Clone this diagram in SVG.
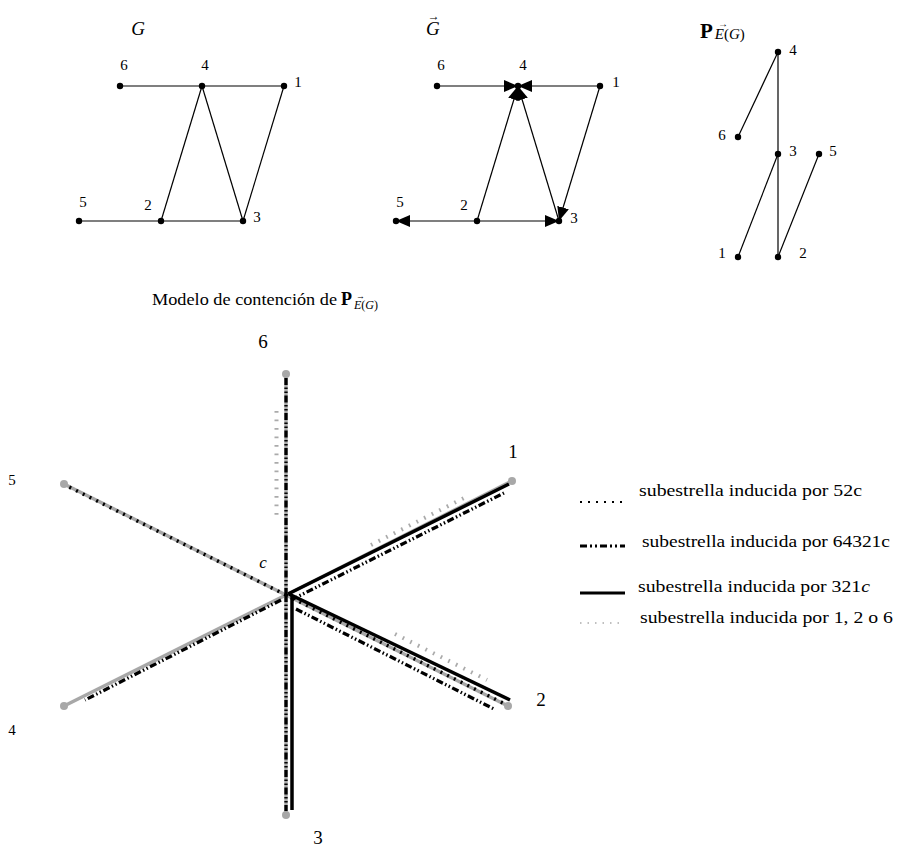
<svg xmlns="http://www.w3.org/2000/svg" width="901" height="850" viewBox="0 0 901 850">
<defs>
<style>
text{font-family:"Liberation Serif","DejaVu Serif",serif;fill:#000}
.lbl{font-size:15px;text-anchor:middle}
.big{font-size:19px;text-anchor:middle}
.it{font-style:italic}
.e{stroke:#000;stroke-width:1.2;fill:none}
.ea{stroke:#000;stroke-width:1.2;fill:none;marker-end:url(#ah)}
.n{fill:#000}
.gr{stroke:#a8a8a8;stroke-width:3.5;fill:none}
.gd{fill:#a8a8a8}
.d52{stroke:#000;stroke-width:3.5;stroke-dasharray:2 5.5;fill:none}
.dd{stroke:#000;stroke-width:3.3;stroke-dasharray:7 2.5 1.5 2.5 1.5 2.5;fill:none}
.so{stroke:#000;stroke-width:3.5;fill:none}
.gdot{stroke:#aaa;stroke-width:4;stroke-dasharray:1.7 6.8;fill:none}
.leg{font-size:17px}
</style>
<marker id="ah" markerUnits="userSpaceOnUse" markerWidth="14" markerHeight="12" refX="14" refY="6" orient="auto">
<path d="M0,0 L14,6 L0,12 Z" fill="#000"/>
</marker>
</defs>

<!-- Graph G -->
<g id="graphG">
<text x="138" y="35" class="big it">G</text>
<g id="G-edges">
<line class="e" x1="120" y1="86" x2="284" y2="86"/>
<line class="e" x1="79" y1="221" x2="243" y2="221"/>
<line class="e" x1="161" y1="221" x2="202" y2="86"/>
<line class="e" x1="202" y1="86" x2="243" y2="221"/>
<line class="e" x1="243" y1="221" x2="284" y2="86"/>
</g>
<g id="G-n6"><circle class="n" cx="120" cy="86" r="3.2"/><text class="lbl" x="124" y="70">6</text></g>
<g id="G-n4"><circle class="n" cx="202" cy="86" r="3.2"/><text class="lbl" x="205" y="70">4</text></g>
<g id="G-n1"><circle class="n" cx="284" cy="86" r="3.2"/><text class="lbl" x="298" y="87">1</text></g>
<g id="G-n5"><circle class="n" cx="79" cy="221" r="3.2"/><text class="lbl" x="83" y="207">5</text></g>
<g id="G-n2"><circle class="n" cx="161" cy="221" r="3.2"/><text class="lbl" x="148" y="210">2</text></g>
<g id="G-n3"><circle class="n" cx="243" cy="221" r="3.2"/><text class="lbl" x="257" y="222">3</text></g>
</g>

<!-- Directed graph G -->
<g id="graphGdir">
<text x="426" y="35" class="it" style="font-size:19px">G<tspan font-style="normal" font-size="12" dx="-12" dy="-15">→</tspan></text>
<g id="Gd-edges">
<line class="ea" x1="437" y1="86" x2="518" y2="86"/>
<line class="ea" x1="600" y1="86" x2="518" y2="86"/>
<line class="ea" x1="477" y1="221" x2="518" y2="86"/>
<line class="ea" x1="559" y1="221" x2="518" y2="86"/>
<line class="ea" x1="477" y1="221" x2="396" y2="221"/>
<line class="ea" x1="477" y1="221" x2="559" y2="221"/>
<line class="ea" x1="600" y1="86" x2="559" y2="221"/>
</g>
<g id="Gd-n6"><circle class="n" cx="437" cy="86" r="3.2"/><text class="lbl" x="441" y="70">6</text></g>
<g id="Gd-n4"><circle class="n" cx="518" cy="86" r="3.2"/><text class="lbl" x="523" y="70">4</text></g>
<g id="Gd-n1"><circle class="n" cx="600" cy="86" r="3.2"/><text class="lbl" x="616" y="87">1</text></g>
<g id="Gd-n5"><circle class="n" cx="396" cy="221" r="3.2"/><text class="lbl" x="400" y="207">5</text></g>
<g id="Gd-n2"><circle class="n" cx="477" cy="221" r="3.2"/><text class="lbl" x="464" y="210">2</text></g>
<g id="Gd-n3"><circle class="n" cx="559" cy="221" r="3.2"/><text class="lbl" x="574" y="223">3</text></g>
</g>

<!-- Poset P_E(G) -->
<g id="poset">
<text x="700" y="38" style="font-size:21px;font-weight:bold">P<tspan font-weight="normal" font-size="15" dx="2" dy="1" font-style="italic">E</tspan><tspan font-weight="normal" font-size="15">(</tspan><tspan font-weight="normal" font-size="15" font-style="italic">G</tspan><tspan font-weight="normal" font-size="15">)</tspan><tspan font-weight="normal" font-size="10" x="718" dy="-12">→</tspan></text>
<g id="P-edges">
<line class="e" x1="778" y1="52" x2="738" y2="137"/>
<line class="e" x1="778" y1="52" x2="778" y2="257"/>
<line class="e" x1="778" y1="154" x2="738" y2="257"/>
<line class="e" x1="819" y1="154" x2="778" y2="257"/>
</g>
<g id="P-n4"><circle class="n" cx="778" cy="52" r="3.2"/><text class="lbl" x="793" y="55">4</text></g>
<g id="P-n6"><circle class="n" cx="738" cy="137" r="3.2"/><text class="lbl" x="722" y="140">6</text></g>
<g id="P-n3"><circle class="n" cx="778" cy="154" r="3.2"/><text class="lbl" x="793" y="156">3</text></g>
<g id="P-n5"><circle class="n" cx="819" cy="154" r="3.2"/><text class="lbl" x="833" y="156">5</text></g>
<g id="P-n1"><circle class="n" cx="738" cy="257" r="3.2"/><text class="lbl" x="722" y="258">1</text></g>
<g id="P-n2"><circle class="n" cx="778" cy="257" r="3.2"/><text class="lbl" x="803" y="258">2</text></g>
</g>

<!-- Containment model title -->
<g id="title">
<text x="152" y="305" style="font-size:17px" textLength="185" lengthAdjust="spacingAndGlyphs">Modelo de contención de</text>
<text x="341" y="305" style="font-size:18px;font-weight:bold">P<tspan font-weight="normal" font-size="12" dx="2" dy="4" font-style="italic">E</tspan><tspan font-weight="normal" font-size="12">(</tspan><tspan font-weight="normal" font-size="12" font-style="italic">G</tspan><tspan font-weight="normal" font-size="12">)</tspan><tspan font-weight="normal" font-size="9" x="356" dy="-10">→</tspan></text>
</g>

<g id="star">
<g id="rays">
<line class="gr" x1="286" y1="595" x2="286" y2="374"/>
<line class="gr" x1="286" y1="595" x2="286" y2="815"/>
<line class="gr" x1="286" y1="595" x2="64" y2="484"/>
<line class="gr" x1="286" y1="595" x2="512" y2="481"/>
<line class="gr" x1="286" y1="595" x2="64" y2="706"/>
<line class="gr" x1="286" y1="595" x2="508" y2="706"/>
</g>
<g id="sub52c">
<line class="d52" x1="286" y1="595" x2="67" y2="486"/>
<line class="d52" x1="286" y1="595" x2="505" y2="704"/>
</g>
<g id="sub64321c">
<line class="dd" x1="286" y1="378" x2="286" y2="595"/>
<line class="dd" x1="286" y1="595" x2="286" y2="811"/>
<line class="dd" x1="281" y1="600" x2="85" y2="700"/>
<line class="dd" x1="291" y1="600" x2="504" y2="493"/>
<line class="dd" x1="296" y1="609" x2="494" y2="709"/>
</g>
<g id="sub321c">
<line class="so" x1="292" y1="595" x2="292" y2="810"/>
<line class="so" x1="288" y1="594" x2="509" y2="484"/>
<line class="so" x1="289" y1="594" x2="510" y2="700"/>
</g>
<g id="sub126">
<line class="gdot" x1="276.5" y1="411" x2="276.5" y2="516"/>
<line class="gdot" x1="371" y1="545" x2="466" y2="497"/>
<line class="gdot" x1="395" y1="634" x2="487" y2="680"/>
</g>
<g id="ends">
<circle class="gd" cx="286" cy="374" r="4"/>
<circle class="gd" cx="286" cy="815" r="4"/>
<circle class="gd" cx="64" cy="484" r="4"/>
<circle class="gd" cx="512" cy="481" r="4"/>
<circle class="gd" cx="64" cy="706" r="4"/>
<circle class="gd" cx="508" cy="706" r="4"/>
</g>
<g id="star-labels">
<text class="big" x="263" y="348">6</text>
<text class="big" x="513" y="458">1</text>
<text class="big" x="541" y="706">2</text>
<text class="big" x="318" y="844">3</text>
<text class="lbl" x="12" y="485">5</text>
<text class="lbl" x="12" y="735">4</text>
<text class="it" x="263" y="568" style="font-size:17px;text-anchor:middle">c</text>
</g>
</g>

<g id="legend">
<line x1="580" y1="502" x2="625" y2="502" stroke="#000" stroke-width="2" stroke-dasharray="2 6"/>
<text class="leg" x="639" y="496" textLength="223" lengthAdjust="spacingAndGlyphs">subestrella inducida por 52c</text>
<line x1="580" y1="546" x2="625" y2="546" stroke="#000" stroke-width="3" stroke-dasharray="7 3 2 3 2 3"/>
<text class="leg" x="642" y="547" textLength="248" lengthAdjust="spacingAndGlyphs">subestrella inducida por 64321c</text>
<line x1="580" y1="593" x2="625" y2="593" stroke="#000" stroke-width="3"/>
<text class="leg" x="638" y="592" textLength="232" lengthAdjust="spacingAndGlyphs">subestrella inducida por 321<tspan font-style="italic">c</tspan></text>
<line x1="580" y1="623" x2="625" y2="623" stroke="#aaa" stroke-width="1.5" stroke-dasharray="1.5 6"/>
<text class="leg" x="640" y="623" textLength="253" lengthAdjust="spacingAndGlyphs">subestrella inducida por 1, 2 o 6</text>
</g>
</svg>
